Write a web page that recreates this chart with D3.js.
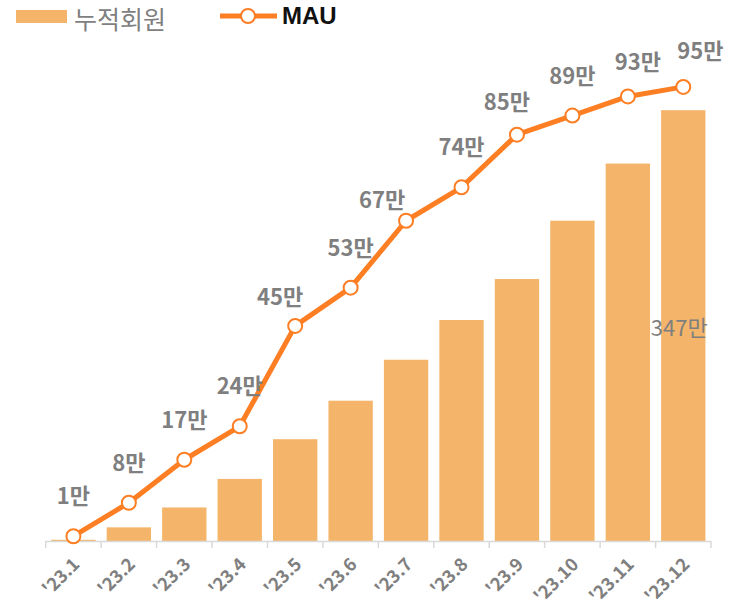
<!DOCTYPE html>
<html>
<head>
<meta charset="utf-8">
<script src="https://cdn.jsdelivr.net/npm/d3@7"></script>
<style>
  body { margin: 0; background: #fff; }
  svg { display: block; font-family: "Noto Sans CJK KR", "Noto Sans", sans-serif; }
</style>
</head>
<body>
<div id="chart"></div>
<script>
// Data
const months = ["'23.1", "'23.2", "'23.3", "'23.4", "'23.5", "'23.6", "'23.7", "'23.8", "'23.9", "'23.10", "'23.11", "'23.12"];
const members = [1, 11, 27, 50, 82, 113, 146, 178, 211, 258, 304, 347];   // 누적회원 (만)
const mau = [1, 8, 17, 24, 45, 53, 67, 74, 85, 89, 93, 95];               // MAU (만)
// manual label nudges (dx, dy) for MAU labels, as in the original
const labelShift = [[0, 0], [0, 0], [0, 0], [0, 0], [-15, 11], [0, 0], [-24, 19], [0, 0], [-10, 7], [0, 0], [10, 6], [17, 4]];

const width = 734, height = 608;
const x0 = 45.7, x1 = 711, baseY = 541, topY = 63;

const svg = d3.select("#chart").append("svg")
  .attr("width", width)
  .attr("height", height);

const x = d3.scaleBand()
  .domain(months)
  .range([x0, x1])
  .paddingInner(0.2)
  .paddingOuter(0.1);

const yBar = d3.scaleLinear().domain([0, 385]).range([baseY, topY]);
const yLine = d3.scaleLinear().domain([0, 100]).range([baseY, topY]);

const barColor = "#f4b56b";
const lineColor = "#fd7e23";
const gray = "#7f7f7f";

// Bars
svg.append("g").selectAll("rect")
  .data(members)
  .join("rect")
    .attr("x", (d, i) => x(months[i]))
    .attr("y", d => yBar(d))
    .attr("width", x.bandwidth())
    .attr("height", d => baseY - yBar(d))
    .attr("fill", barColor);

// Axis line with tick marks at band boundaries
const axis = svg.append("g");
axis.append("line")
  .attr("x1", x0).attr("x2", x1)
  .attr("y1", baseY + 0.5).attr("y2", baseY + 0.5)
  .attr("stroke", "#d9d9d9").attr("stroke-width", 1.5);
const step = (x1 - x0) / months.length;
axis.selectAll("line.tick")
  .data(d3.range(months.length + 1))
  .join("line")
    .attr("class", "tick")
    .attr("x1", i => x0 + i * step).attr("x2", i => x0 + i * step)
    .attr("y1", baseY).attr("y2", baseY + 7)
    .attr("stroke", "#d9d9d9").attr("stroke-width", 1.5);

// X labels, rotated
axis.selectAll("text")
  .data(months)
  .join("text")
    .attr("transform", d => `translate(${x(d) + x.bandwidth() / 2 + 4}, ${baseY + 21}) rotate(-45)`)
    .attr("text-anchor", "end")
    .attr("dominant-baseline", "middle")
    .attr("fill", gray)
    .attr("font-size", 18)
    .attr("font-weight", "bold")
    .text(d => d);

// Label on last bar
svg.append("text")
  .attr("x", x(months[11]) + x.bandwidth() / 2 - 4)
  .attr("y", (yBar(members[11]) + baseY) / 2 + 4)
  .attr("text-anchor", "middle")
  .attr("dominant-baseline", "middle")
  .attr("fill", gray)
  .attr("font-size", 22)
  .text(members[11] + "만");

// MAU line
const line = d3.line()
  .x((d, i) => x(months[i]) + x.bandwidth() / 2)
  .y(d => yLine(d));

svg.append("path")
  .datum(mau)
  .attr("d", line)
  .attr("fill", "none")
  .attr("stroke", lineColor)
  .attr("stroke-width", 5)
  .attr("stroke-linejoin", "round");

svg.append("g").selectAll("circle")
  .data(mau)
  .join("circle")
    .attr("cx", (d, i) => x(months[i]) + x.bandwidth() / 2)
    .attr("cy", d => yLine(d))
    .attr("r", 7)
    .attr("fill", "#fff")
    .attr("stroke", lineColor)
    .attr("stroke-width", 2);

svg.append("g").selectAll("text")
  .data(mau)
  .join("text")
    .attr("x", (d, i) => x(months[i]) + x.bandwidth() / 2 + labelShift[i][0])
    .attr("y", (d, i) => yLine(d) - 38 + labelShift[i][1])
    .attr("text-anchor", "middle")
    .attr("dominant-baseline", "middle")
    .attr("fill", gray)
    .attr("font-size", 22)
    .attr("font-weight", "bold")
    .text(d => d + "만");

// Legend
const legend = svg.append("g");
legend.append("rect")
  .attr("x", 16).attr("y", 10).attr("width", 51).attr("height", 13)
  .attr("fill", barColor);
legend.append("text")
  .attr("x", 74).attr("y", 29)
  .attr("fill", gray)
  .attr("font-size", 25)
  .text("누적회원");
legend.append("line")
  .attr("x1", 220).attr("x2", 277).attr("y1", 16).attr("y2", 16)
  .attr("stroke", lineColor).attr("stroke-width", 5);
legend.append("circle")
  .attr("cx", 248).attr("cy", 16).attr("r", 7)
  .attr("fill", "#fff").attr("stroke", lineColor).attr("stroke-width", 2);
legend.append("text")
  .attr("x", 282).attr("y", 24)
  .attr("fill", "#111")
  .attr("font-family", "'Liberation Sans', Arial, sans-serif")
  .attr("font-size", 24)
  .attr("font-weight", "bold")
  .text("MAU");
</script>
</body>
</html>
